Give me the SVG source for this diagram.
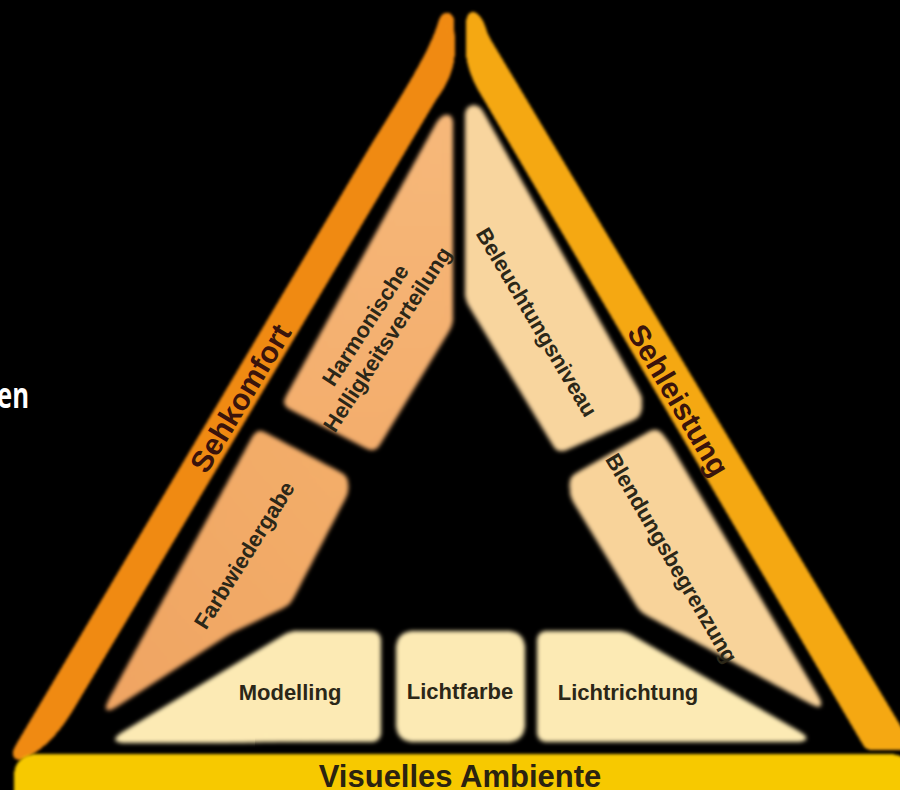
<svg xmlns="http://www.w3.org/2000/svg" width="900" height="790" viewBox="0 0 900 790">
<defs>
<filter id="rnd" x="-10%" y="-10%" width="120%" height="120%" color-interpolation-filters="sRGB">
<feGaussianBlur stdDeviation="5"/>
<feComponentTransfer><feFuncA type="linear" slope="40" intercept="-19.5"/></feComponentTransfer>
<feGaussianBlur stdDeviation="2"/>
</filter>
<filter id="rndS" x="-10%" y="-10%" width="120%" height="120%" color-interpolation-filters="sRGB">
<feGaussianBlur stdDeviation="3"/>
<feComponentTransfer><feFuncA type="linear" slope="40" intercept="-19.5"/></feComponentTransfer>
<feGaussianBlur stdDeviation="1.7"/>
</filter>
<linearGradient id="gHarm" x1="0" y1="0" x2="0" y2="1">
<stop offset="0" stop-color="#F6B87A"/><stop offset="1" stop-color="#F3AD6C"/>
</linearGradient>
<linearGradient id="gFarb" x1="1" y1="0" x2="0" y2="1">
<stop offset="0" stop-color="#F3AE6A"/><stop offset="1" stop-color="#EFA462"/>
</linearGradient>
<style>
.lbl{font-family:"Liberation Sans",Arial,sans-serif;font-weight:bold;font-size:22px;fill:#2b2718;text-anchor:middle}
.band{font-family:"Liberation Sans",Arial,sans-serif;font-weight:bold;font-size:30px;fill:#3a140c;text-anchor:middle}
.amb{font-family:"Liberation Sans",Arial,sans-serif;font-weight:bold;font-size:31px;fill:#2b2310;text-anchor:middle}
</style>
</defs>
<rect width="900" height="790" fill="#000"/>
<text x="-3" y="408" font-family="'Open Sans',sans-serif" font-weight="bold" font-size="36" fill="#fff" textLength="32" lengthAdjust="spacingAndGlyphs">en</text>

<g id="sehkomfort">
<path filter="url(#rndS)" fill="#F08A12" d="M 440,16 Q 447,8 454,16 L 455,50 Q 455,75 436,100 L 127,620 L 72,712 Q 50,748 22,760 Q 8,762 14,748 L 362,160 C 400,97 432,50 440,16 Z"/>
<text class="band" transform="translate(240,398) rotate(-59)" y="11">Sehkomfort</text>
</g>

<g id="sehleistung">
<path filter="url(#rndS)" fill="#F5A812" d="M 466,20 Q 468,8 476,12 Q 484,18 488,35 L 915,750 L 866,750 L 484,100 Q 468,75 466,55 Z"/>
<text class="band" transform="translate(679,400) rotate(59.5)" y="11">Sehleistung</text>
</g>

<g id="visuelles-ambiente">
<rect filter="url(#rndS)" x="14" y="754" width="898" height="60" rx="20" fill="#F7C900"/>
<text class="amb" x="460" y="787">Visuelles Ambiente</text>
</g>

<g id="harmonische">
<path filter="url(#rnd)" fill="url(#gHarm)" d="M 440,116 L 453,112 L 453,325 L 375,453 L 281,405 Z"/>
<text class="lbl" transform="translate(376,332) rotate(-57)"><tspan x="0" y="-5">Harmonische</tspan><tspan x="0" y="21">Helligkeitsverteilung</tspan></text>
</g>

<g id="farbwiedergabe">
<path filter="url(#rnd)" fill="url(#gFarb)" d="M 257,428 L 348,476 L 349,492 L 290,605 L 230,634 L 98,719 Z"/>
<text class="lbl" transform="translate(244,555) rotate(-58)" y="8">Farbwiedergabe</text>
</g>

<g id="beleuchtungsniveau">
<path filter="url(#rnd)" fill="#F8D59E" d="M 465,106 L 479,104 L 643,398 L 641,417 L 558,454 L 465,300 Z"/>
<text class="lbl" transform="translate(537,322) rotate(59.3)" y="8">Beleuchtungsniveau</text>
</g>

<g id="blendungsbegrenzung">
<path filter="url(#rnd)" fill="#F8D39A" d="M 569,477 L 657,427 L 669,442 L 829,714 L 640,612 L 570,497 Z"/>
<text class="lbl" transform="translate(672,558) rotate(59.6)" y="8">Blendungsbegrenzung</text>
</g>

<g id="modelling">
<path filter="url(#rnd)" fill="#FCEAB4" d="M 104,743 L 290,631 L 381,631 L 381,742 Z"/>
<text class="lbl" x="290" y="700">Modelling</text>
</g>

<g id="lichtfarbe">
<rect filter="url(#rnd)" x="396" y="631" width="129" height="111" rx="14" fill="#FCEAB4"/>
<text class="lbl" x="460" y="699">Lichtfarbe</text>
</g>

<g id="lichtrichtung">
<path filter="url(#rnd)" fill="#FCEAB4" d="M 537,631 L 625,631 L 818,742 L 537,742 Z"/>
<text class="lbl" x="628" y="700">Lichtrichtung</text>
</g>

<g id="connectors"></g>
</svg>
